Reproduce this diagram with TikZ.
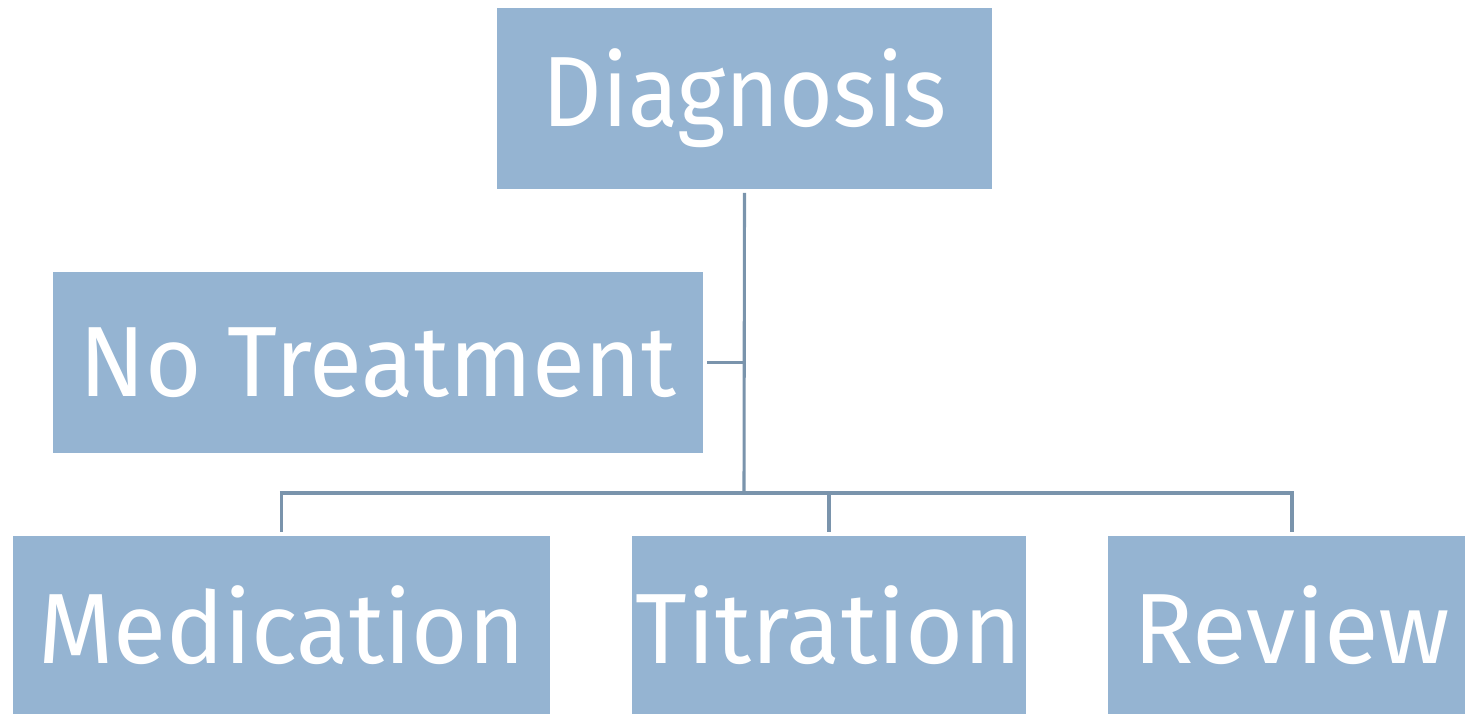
\documentclass[tikz,border=0pt]{standalone}
\usepackage{fontspec}
\setmainfont{Fira Sans}
\usetikzlibrary{positioning}

\begin{document}
\begin{tikzpicture}[x=0.025cm,y=-0.025cm,
	box/.style={fill=boxblue,text=white,inner sep=0pt,minimum height=4.5cm,
		font=\fontsize{71}{71}\selectfont},
	conn/.style={draw=linegray,line width=2.2pt}]

\definecolor{boxblue}{HTML}{95B4D2}
\definecolor{linegray}{HTML}{7A94AC}

\useasboundingbox (0,0) rectangle (1465,715);

\node[box,minimum width=12.375cm] (diag) at (744.5,98.5) {\scalebox{0.925}[1]{Diagnosis}};
\node[box,minimum width=16.25cm] (notreat) at (378,362.5) {\scalebox{0.97}[1]{No Treatment}};
\node[box,minimum width=13.425cm,minimum height=4.45cm] (med) at (281.5,625) {\scalebox{0.97}[1]{Medication}};
\node[box,minimum width=9.85cm,minimum height=4.45cm] (titr) at (829,625) {Titration};
\node[box,minimum width=9.2cm,minimum height=4.45cm] (rev) at (1292,625) {Review};

\coordinate (hub) at (744,493);

\draw[conn] ([yshift=-0.1cm]diag.south) -- (hub);
\draw[conn] ([xshift=0.1cm]notreat.east) -- (notreat.east -| hub);
\draw[conn] ([xshift=-0.04cm]hub -| med.north) -- ([xshift=0.04cm]hub -| rev.north);
\foreach \n in {med,titr,rev}{
	\draw[conn] (hub -| \n.north) -- ([yshift=0.1cm]\n.north);
}

\end{tikzpicture}
\end{document}
